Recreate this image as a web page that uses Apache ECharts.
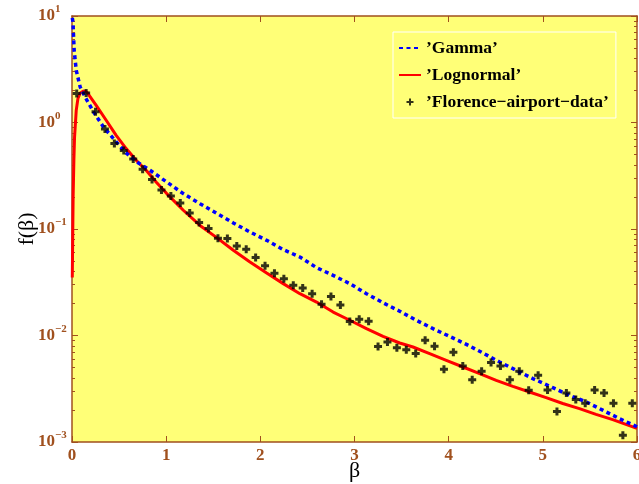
<!DOCTYPE html>
<html><head><meta charset="utf-8">
<script src="https://cdn.jsdelivr.net/npm/echarts@6/dist/echarts.min.js"></script>
<style>html,body{margin:0;padding:0;background:#fff}#c{width:639px;height:484px}</style>
</head><body><div id="c"></div>
<script>
// ---- data ----
const dataBeta = [0.05,0.15,0.25,0.35,0.45,0.55,0.65,0.75,0.85,0.95,1.05,1.15,1.25,1.35,1.45,1.55,1.65,1.75,1.85,1.95,2.05,2.15,2.25,2.35,2.45,2.55,2.65,2.75,2.85,2.95,3.05,3.15,3.25,3.35,3.45,3.55,3.65,3.75,3.85,3.95,4.05,4.15,4.25,4.35,4.45,4.55,4.65,4.75,4.85,4.95,5.05,5.15,5.25,5.35,5.45,5.55,5.65,5.75,5.85,5.95];
const dataF = [1.87,1.89,1.26,0.869,0.634,0.545,0.454,0.364,0.292,0.232,0.204,0.175,0.141,0.115,0.101,0.0818,0.0813,0.0692,0.0645,0.0539,0.0453,0.0385,0.0342,0.0296,0.0279,0.0247,0.0196,0.0233,0.0193,0.0135,0.0142,0.0136,0.00787,0.00869,0.00769,0.00734,0.00676,0.00902,0.00792,0.00482,0.00695,0.00517,0.00385,0.00461,0.00557,0.00517,0.00385,0.00461,0.00306,0.00423,0.00308,0.00193,0.00288,0.00250,0.00231,0.00308,0.00288,0.00231,0.00116,0.00231];

const gammaBeta = [0.003,0.01,0.023,0.045,0.087,0.14,0.228,0.334,0.44,0.564,0.688,0.829,1.006,1.182,1.359,1.537,1.713,1.89,2.067,2.243,2.42,2.597,2.773,2.95,3.127,3.303,3.48,3.657,3.834,4.01,4.188,4.364,4.541,4.718,4.894,5.106,5.283,5.46,5.636,5.813,6.0];
const gammaF = [9.6,8.8,4.76,3.09,2.15,1.73,1.26,0.908,0.706,0.528,0.426,0.356,0.276,0.215,0.173,0.140,0.114,0.0937,0.0783,0.0641,0.0546,0.0434,0.0367,0.0307,0.0247,0.0203,0.0169,0.0139,0.0116,0.0098,0.00826,0.00685,0.00564,0.00471,0.00394,0.00324,0.00274,0.00238,0.00199,0.00166,0.00139];

const lognBeta = [0.003,0.008,0.012,0.02,0.027,0.045,0.063,0.087,0.122,0.158,0.257,0.363,0.469,0.575,0.681,0.787,0.893,1.006,1.182,1.359,1.537,1.713,1.89,2.067,2.243,2.42,2.597,2.773,2.95,3.127,3.303,3.48,3.621,3.798,3.975,4.152,4.329,4.505,4.682,4.858,5.035,5.212,5.389,5.565,5.742,6.0];
const lognF = [0.035,0.091,0.20,0.44,0.726,1.30,1.68,1.89,1.98,1.93,1.45,1.05,0.758,0.569,0.442,0.356,0.276,0.215,0.150,0.108,0.0830,0.0631,0.0490,0.0386,0.0307,0.0247,0.0206,0.0166,0.0139,0.0116,0.0098,0.0085,0.0078,0.00676,0.00585,0.00506,0.00439,0.00379,0.00333,0.00295,0.00261,0.00230,0.00206,0.00182,0.00162,0.00134];

const seriesNames = ["’Gamma’", "’Lognormal’", "’Florence−airport−data’"];
const minorTickValues = [0.002,0.003,0.004,0.005,0.006,0.007,0.008,0.009,0.02,0.03,0.04,0.05,0.06,0.07,0.08,0.09,0.2,0.3,0.4,0.5,0.6,0.7,0.8,0.9,2,3,4,5,6,7,8,9];

const zip = (a, b) => a.map((v, i) => [v, b[i]]);
const brown = '#a0501e';
const serif = 'Liberation Serif';
const plusPath = 'path://M2.5,0H5.5V2.5H8V5.5H5.5V8H2.5V5.5H0V2.5H2.5Z';
const plusLegend = 'path://M0,0M14,14M6,3.5H8V6H10.5V8H8V10.5H6V8H3.5V6H6Z';

const baseLine = { show: true, lineStyle: { color: brown, width: 1.5 } };
function yAx(pos, minor, labels) {
  const ax = {
    type: 'log', logBase: 10, min: 0.001, max: 10, position: pos, gridIndex: 0, offset: 0,
    axisLine: minor ? { show: false } : baseLine,
    splitLine: { show: false },
    axisTick: { show: true, inside: true, length: minor ? 3 : 6, lineStyle: { color: brown, width: 1 } },
    axisLabel: { show: false }
  };
  if (minor) ax.axisTick.customValues = minorTickValues;
  if (labels) {
    ax.axisLabel = {
      show: true, align: 'left', margin: 34,
      formatter: v => {
        const e = Math.round(Math.log10(v));
        return '{b|10}{s|' + (e < 0 ? '−' + (-e) : e) + '}';
      },
      rich: {
        b: { fontFamily: serif, fontWeight: 'bold', fontSize: 17, color: brown, lineHeight: 24 },
        s: { fontFamily: serif, fontWeight: 'bold', fontSize: 11, color: brown, verticalAlign: 'top', lineHeight: 12 }
      }
    };
    ax.name = 'f(β)';
    ax.nameLocation = 'middle';
    ax.nameGap = 34;
    ax.nameMoveOverlap = false;
    ax.nameTextStyle = { fontFamily: serif, fontSize: 22, color: '#000' };
  }
  return ax;
}

const chart = echarts.init(document.getElementById('c'), null, { renderer: 'canvas' });
chart.setOption({
  animation: false,
  backgroundColor: '#fff',
  grid: { left: 72, right: 2, top: 16, bottom: 42, show: true, backgroundColor: '#ffff77', borderWidth: 0, containLabel: false, outerBoundsMode: 'none' },
  legend: {
    orient: 'vertical', left: 393, top: 32,
    padding: [7, 7, 7, 5], itemGap: 9, itemWidth: 22, itemHeight: 14,
    borderColor: '#ffffff', borderWidth: 1, backgroundColor: 'transparent',
    textStyle: { fontFamily: serif, fontWeight: 'bold', fontSize: 17.5, color: '#000' },
    data: [
      { name: seriesNames[0], itemStyle: { opacity: 0 } },
      { name: seriesNames[1], itemStyle: { opacity: 0 } },
      { name: seriesNames[2], icon: plusLegend }
    ]
  },
  xAxis: [
    {
      type: 'value', min: 0, max: 6, interval: 1, position: 'bottom', gridIndex: 0,
      axisLine: baseLine, splitLine: { show: false },
      axisTick: { inside: true, length: 6, lineStyle: { color: brown, width: 1 } },
      axisLabel: { margin: 5, fontFamily: serif, fontWeight: 'bold', fontSize: 17, color: brown },
      name: 'β', nameLocation: 'middle', nameGap: 18, nameMoveOverlap: false,
      nameTextStyle: { fontFamily: serif, fontSize: 22, color: '#000' }
    },
    {
      type: 'value', min: 0, max: 6, interval: 1, position: 'top', gridIndex: 0,
      axisLine: baseLine, splitLine: { show: false },
      axisTick: { inside: true, length: 6, lineStyle: { color: brown, width: 1 } },
      axisLabel: { show: false }
    }
  ],
  yAxis: [yAx('left', false, true), yAx('left', true, false), yAx('right', false, false), yAx('right', true, false)],
  series: [
    {
      name: seriesNames[0], type: 'line', data: zip(gammaBeta, gammaF),
      symbol: 'none', showSymbol: false, z: 3,
      lineStyle: { color: '#0000ff', width: 3.5, type: [4, 3.5] }, itemStyle: { color: '#0000ff' }
    },
    {
      name: seriesNames[1], type: 'line', data: zip(lognBeta, lognF),
      symbol: 'none', showSymbol: false, z: 2,
      lineStyle: { color: '#ff0000', width: 3 }, itemStyle: { color: '#ff0000' }
    },
    {
      name: seriesNames[2], type: 'scatter', data: zip(dataBeta, dataF),
      symbol: plusPath, symbolSize: 8, z: 4,
      itemStyle: { color: '#000' }
    }
  ]
});
</script></body></html>
